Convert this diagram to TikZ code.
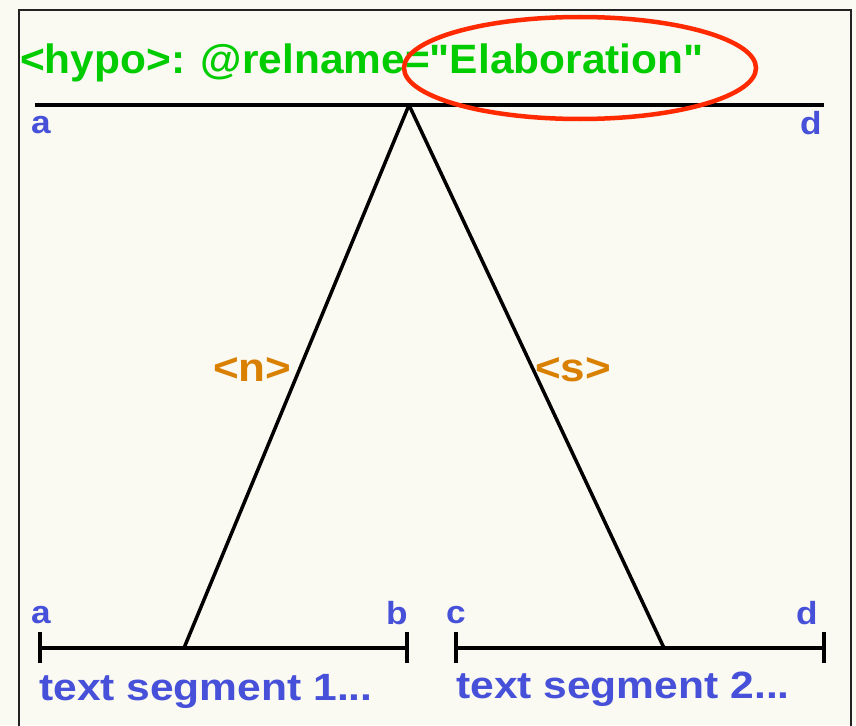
\documentclass[tikz,border=0pt]{standalone}
\usepackage{fontspec}
\setmainfont{Liberation Sans}[Ligatures=TeXOff]
\usetikzlibrary{shapes.geometric}
\definecolor{bg}{HTML}{FAF9F2}
\definecolor{ttgreen}{HTML}{00CC00}
\definecolor{ttblue}{HTML}{4650D8}
\definecolor{ttorange}{HTML}{D98000}
\definecolor{ttred}{HTML}{FF2A00}
\definecolor{frame}{HTML}{222222}
\tikzset{
  lbl/.style={inner sep=0pt, anchor=base west, font=\fontsize{32}{38}\selectfont\bfseries, text=ttblue},
  seg/.style={inner sep=0pt, anchor=base west, font=\fontsize{38}{46}\selectfont\bfseries, text=ttblue},
  role/.style={inner sep=0pt, anchor=base west, font=\fontsize{40}{48}\selectfont\bfseries, text=ttorange},
  ttl/.style={inner sep=0pt, anchor=base west, font=\fontsize{41}{48}\selectfont\bfseries, text=ttgreen},
  treeline/.style={line width=3.5pt, black},
}
\begin{document}
\begin{tikzpicture}[x=1pt,y=-1pt]
\fill[bg] (0,0) rectangle (856,725);
\useasboundingbox (0,0) rectangle (856,725);
% frame
\draw[frame, line width=1.5pt] (19,730) -- (19,10) -- (851,10) -- (851,730);
% title
\node[ttl] (title) at (20,74) {\scalebox{1.035}[1]{<hypo>: @relname="Elaboration"}};
% top span
\coordinate (ta) at (35,105);
\coordinate (td) at (824,105);
\coordinate (apex) at (409,105);
\draw[treeline] (ta) -- (td);
\node[lbl] (la1) at (31,133) {\scalebox{1.1}[1]{a}};
\node[lbl] (ld1) at (800,134) {\scalebox{1.1}[1]{d}};
% bottom segments
\coordinate (s1a) at (40,648);
\coordinate (s1b) at (407,648);
\coordinate (s2c) at (456,648);
\coordinate (s2d) at (824,648);
\coordinate (f1) at (184,648);
\coordinate (f2) at (664,648);
\draw[treeline] (s1a) -- (s1b);
\draw[treeline] (s2c) -- (s2d);
\foreach \p in {s1a,s1b,s2c,s2d}{
  \draw[treeline] ([yshift=-15pt]\p) -- ([yshift=16pt]\p);
}
% legs
\draw[treeline] (apex) -- (f1);
\draw[treeline] (apex) -- (f2);
% role labels
\node[role] (rn) at (213,381) {\scalebox{1.1}[1]{<n>}};
\node[role] (rs) at (535,381) {\scalebox{1.1}[1]{<s>}};
% segment endpoint labels
\node[lbl] (la2) at (31,623) {\scalebox{1.1}[1]{a}};
\node[lbl] (lb2) at (386,624) {\scalebox{1.1}[1]{b}};
\node[lbl] (lc2) at (446,623) {\scalebox{1.1}[1]{c}};
\node[lbl] (ld2) at (796,624) {\scalebox{1.1}[1]{d}};
% segment texts
\node[seg] (t1) at (39,700) {\scalebox{1.12}[1]{text segment 1...}};
\node[seg] (t2) at (456,698) {\scalebox{1.12}[1]{text segment 2...}};
% highlight ellipse
\node[draw=ttred, line width=4.5pt, ellipse, minimum width=352pt, minimum height=102pt, inner sep=0pt] (oval) at (580,68) {};
\end{tikzpicture}
\end{document}
